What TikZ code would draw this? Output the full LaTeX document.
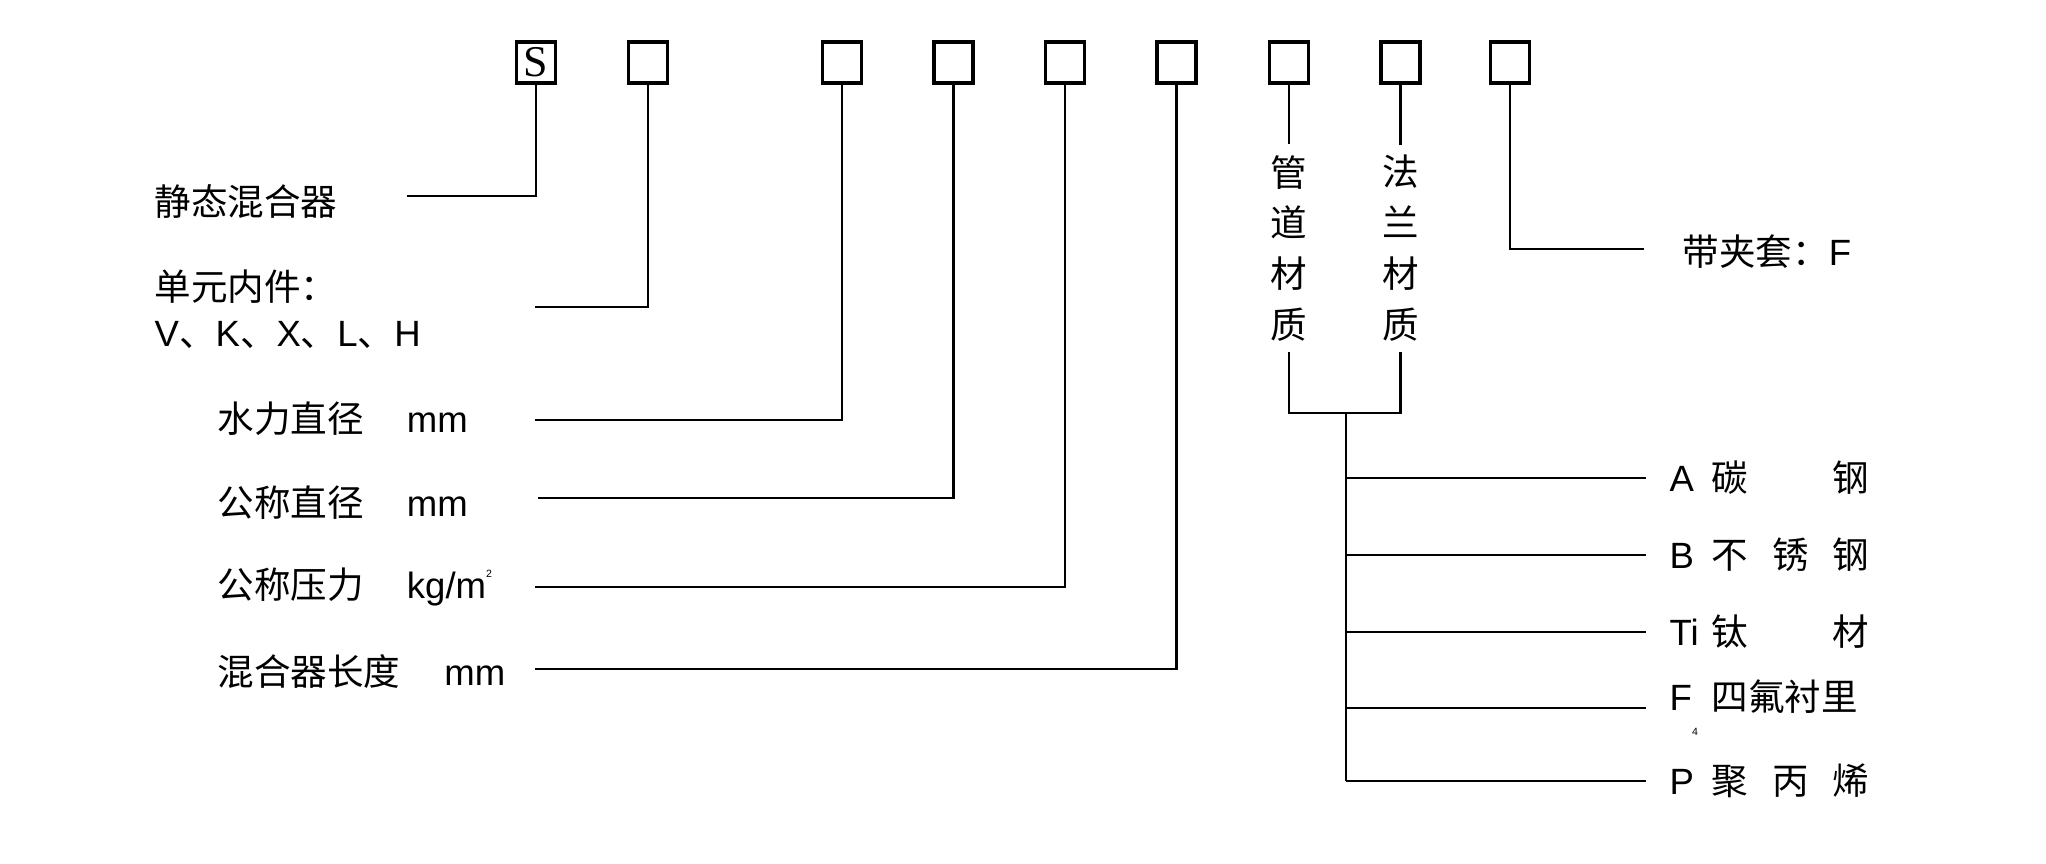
\documentclass[tikz,border=0pt]{standalone}
\usepackage{fontspec}
\usepackage{tikz}
\usetikzlibrary{positioning}
\setmainfont{Liberation Sans}
\newfontfamily\cjk{Noto Sans CJK SC}
\newfontfamily\serifS{Liberation Serif}
\newcommand{\matlabel}[4]{\makebox[0.42cm][l]{#1}\makebox[0.605cm][l]{\cjk #2}\makebox[0.605cm][l]{\cjk #3}{\cjk #4}}
\newcommand{\tinyup}[1]{\raisebox{1.1ex}{\fontsize{3}{3}\selectfont #1}}
\newcommand{\tinydown}[1]{\raisebox{-1.3ex}{\fontsize{3}{3}\selectfont #1}}

\begin{document}
\begin{tikzpicture}[
    every node/.style={font=\fontsize{10.4}{12.5}\selectfont, inner sep=0pt},
    codebox/.style={
        rectangle,
        draw,
        line width=0.9pt,
        minimum width=0.39cm,
        minimum height=0.41cm
    },
    lbl/.style={anchor=west},
    vlbl/.style={align=center, font=\fontsize{10.4}{14.5}\selectfont\cjk, inner ysep=0.1cm},
    link/.style={line width=0.7pt}
]

\fill[white] (0,0) rectangle (20.46,8.64);
\useasboundingbox (0,0) rectangle (20.46,8.64);

% CODE BOXES
\node[codebox, font=\fontsize{12.5}{12.5}\selectfont\serifS] (bS) at (5.36, 8.015) {S};
\node[codebox] (bElem) at (6.48, 8.015) {};
\node[codebox] (bHyd) at (8.42, 8.015) {};
\node[codebox] (bNom) at (9.535, 8.015) {};
\node[codebox] (bPres) at (10.65, 8.015) {};
\node[codebox] (bLen) at (11.765, 8.015) {};
\node[codebox] (bPipe) at (12.89, 8.015) {};
\node[codebox] (bFlange) at (14.005, 8.015) {};
\node[codebox] (bJacket) at (15.10, 8.015) {};

% LEFT LABELS
\node[lbl] (nS) at (1.54, 6.62) {\cjk 静态混合器};
\node[lbl] (nElem) at (1.54, 5.77) {\cjk 单元内件：};
\node[lbl] (nElemList) at (1.54, 5.29) {V{\cjk 、}K{\cjk 、}X{\cjk 、}L{\cjk 、}H};
\node[lbl] (nHyd) at (2.17, 4.45) {{\cjk 水力直径}\hspace{0.43cm}mm};
\node[lbl] (nNom) at (2.17, 3.61) {{\cjk 公称直径}\hspace{0.43cm}mm};
\node[lbl] (nPres) at (2.17, 2.77) {{\cjk 公称压力}\hspace{0.43cm}kg/m\tinyup{2}};
\node[lbl] (nLen) at (2.17, 1.92) {{\cjk 混合器长度}\hspace{0.44cm}mm};

% LINE ENDS
\coordinate (eS) at (4.07, 6.68);
\coordinate (eElem) at (5.35, 5.57);
\coordinate (eHyd) at (5.35, 4.44);
\coordinate (eNom) at (5.38, 3.66);
\coordinate (ePres) at (5.35, 2.77);
\coordinate (eLen) at (5.35, 1.95);
\coordinate (eJacket) at (16.44, 6.15);

\draw[link] (bS.south) |- (eS);
\draw[link] (bElem.south) |- (eElem);
\draw[link] (bHyd.south) |- (eHyd);
\draw[link] (bNom.south) |- (eNom);
\draw[link] (bPres.south) |- (ePres);
\draw[link] (bLen.south) |- (eLen);
\draw[link] (bJacket.south) |- (eJacket);

% JACKET
\node[lbl] (nJacket) at (16.82, 6.12) {{\cjk 带夹套：}F};

% MATERIALS
\node[vlbl] (pipe) at (12.89, 6.155) {管\\道\\材\\质};
\node[vlbl] (flange) at (14.005, 6.155) {法\\兰\\材\\质};
\draw[link] (bPipe.south) -- (pipe.north);
\draw[link] (bFlange.south) -- (flange.north);

\coordinate (jn) at (13.46, 4.51);
\draw[link] (pipe.south) |- (jn) -| (flange.south);

\node[lbl] (matA) at (16.69, 3.86) {\matlabel{A}{碳}{}{钢}};
\node[lbl] (matB) at (16.69, 3.09) {\matlabel{B}{不}{锈}{钢}};
\node[lbl] (matTi) at (16.69, 2.32) {\matlabel{Ti}{钛}{}{材}};
\node[lbl] (matF) at (16.69, 1.56) {\makebox[0.42cm][l]{F\tinydown{4}}{\cjk 四氟衬里}};
\node[lbl] (matP) at (16.69, 0.83) {\matlabel{P}{聚}{丙}{烯}};

\draw[link] (jn) -- (jn |- matP);
\draw[link, shorten >=0.23cm] (jn |- matA) -- (matA.west);
\draw[link, shorten >=0.23cm] (jn |- matB) -- (matB.west);
\draw[link, shorten >=0.23cm] (jn |- matTi) -- (matTi.west);
\draw[link, shorten >=0.23cm] (jn |- matF) -- (matF.west);
\draw[link, shorten >=0.23cm] (jn |- matP) -- (matP.west);

\end{tikzpicture}
\end{document}
